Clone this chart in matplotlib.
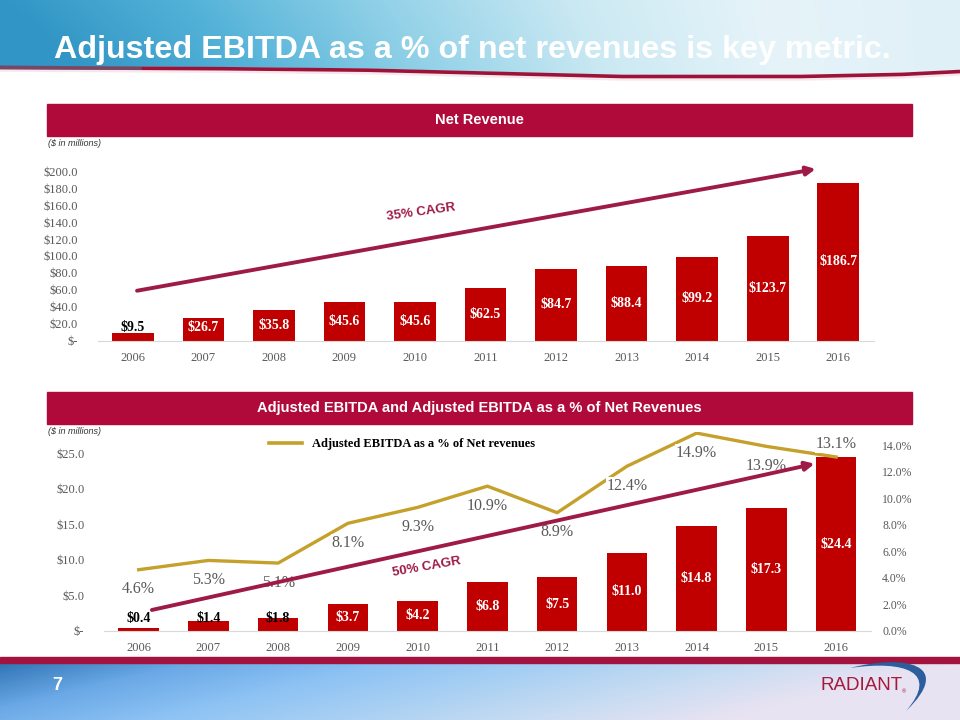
import numpy as np
import matplotlib.pyplot as plt
from matplotlib.colors import LinearSegmentedColormap
from matplotlib.lines import Line2D
from matplotlib.patches import Polygon, Rectangle, PathPatch
from matplotlib.path import Path

# ---- data ----
years = ["2006", "2007", "2008", "2009", "2010", "2011",
         "2012", "2013", "2014", "2015", "2016"]
net_revenue = [9.5, 26.7, 35.8, 45.6, 45.6, 62.5, 84.7, 88.4, 99.2, 123.7, 186.7]
adj_ebitda = [0.4, 1.4, 1.8, 3.7, 4.2, 6.8, 7.5, 11.0, 14.8, 17.3, 24.4]
ebitda_margin = [4.6, 5.3, 5.1, 8.1, 9.3, 10.9, 8.9, 12.4, 14.9, 13.9, 13.1]

rev_ticks = list(range(0, 201, 20))
ebitda_ticks = list(range(0, 26, 5))
margin_ticks = list(range(0, 15, 2))

BAR = "#C00000"
CRIMSON = "#B00A3B"
ARROW = "#9E1A48"
GOLD = "#C5A02B"
GREY = "#595959"
SERIF = "Liberation Serif"
SANS = "Liberation Sans"

fig = plt.figure(figsize=(9.6, 7.2), dpi=100)

# ---- slide background ----
bg = fig.add_axes([0, 0, 1, 1], zorder=-5)
bg.set_xlim(0, 960)
bg.set_ylim(720, 0)
bg.axis("off")

banner_cmap = LinearSegmentedColormap.from_list(
    "banner", ["#3196c5", "#55b3d8", "#93d2e8", "#cbe9f3", "#e6f4f9", "#dff0f7"])
hgrad = np.linspace(0, 1, 480)[None, :].repeat(80, axis=0)
vshade = np.linspace(0.0, 0.10, 80)[:, None]
im = bg.imshow(np.clip(hgrad - vshade * (1 - hgrad), 0, 1), cmap=banner_cmap,
               extent=[0, 960, 82, 0], aspect="auto", zorder=0)
cx = np.linspace(0, 960, 200)
cy = np.interp(cx, [0, 200, 360, 500, 620, 800, 900, 960], [66, 67, 68.5, 72, 75, 75, 73, 70])
clip = Polygon(np.vstack([[0, 0], np.column_stack([cx, cy]), [960, 0]]),
               transform=bg.transData, facecolor="none", edgecolor="none")
bg.add_patch(clip)
im.set_clip_path(clip)
bg.plot(cx, cy + 1.5, color="#9c1238", lw=2.6, solid_capstyle="butt", zorder=2)
bg.plot(cx[:30], cy[:30] + 1.5, color="#5a6f88", lw=2.6, alpha=0.6, zorder=3)
bg.plot(cx, cy + 4, color="#f3d6df", lw=2.5, alpha=0.6, zorder=1)

foot_cmap = LinearSegmentedColormap.from_list(
    "foot", ["#3074b5", "#6aa8e6", "#8cc2f4", "#a9d0f3", "#c8dcf2", "#e8e3f2"])
fgrad = np.linspace(0, 1, 480)[None, :].repeat(60, axis=0)
fv = np.linspace(0.0, 0.25, 60)[:, None]
bg.imshow(np.clip(fgrad + fv, 0, 1), cmap=foot_cmap,
          extent=[0, 960, 720, 662], aspect="auto", zorder=0)
bg.add_patch(Rectangle((0, 656.5), 960, 6, color="#A3133F", zorder=2))

bg.text(472, 58.3, "Adjusted EBITDA as a % of net revenues is key metric.",
        ha="center", va="baseline", color="white", fontsize=23.2, fontweight="bold",
        family=SANS, zorder=4)
bg.text(57, 686, "7", ha="center", va="center", color="white",
        fontsize=13, fontweight="bold", family=SANS, zorder=4)

# logo
bg.text(821, 686, "RADIANT", ha="left", va="center", color="#A6193C",
        fontsize=13.5, family=SANS, zorder=4)
bg.text(902, 692, "®", ha="left", va="center", color="#A6193C", fontsize=4, family=SANS, zorder=4)
swoosh = Path([(850, 668), (905, 654), (955, 664), (906, 711),
               (940, 672), (905, 660), (850, 668)],
              [Path.MOVETO, Path.CURVE4, Path.CURVE4, Path.CURVE4,
               Path.CURVE4, Path.CURVE4, Path.CURVE4])
bg.add_patch(PathPatch(swoosh, facecolor="#2c5d9c", edgecolor="none", zorder=3))

# section header bars
for y0, label in [(104, "Net Revenue"),
                  (392, "Adjusted EBITDA and Adjusted EBITDA as a % of Net Revenues")]:
    bg.add_patch(Rectangle((47, y0), 865, 31.5, color=CRIMSON, zorder=2))
    bg.text(479, y0 + 16, label, ha="center", va="center", color="white",
            fontsize=10.5, fontweight="bold", family=SANS, zorder=3)
    bg.text(48, y0 + 39, "($ in millions)", ha="left", va="center", color="#333333",
            fontsize=6.5, style="italic", family=SANS, zorder=3)


def money(v, _=None):
    return "$-" if v == 0 else f"${v:.1f}"


def style_axis(ax):
    for s in ("top", "right", "left"):
        ax.spines[s].set_visible(False)
    ax.spines["bottom"].set_color("#d9d9d9")
    ax.tick_params(length=0, colors=GREY, labelsize=9)
    for lbl in ax.get_xticklabels() + ax.get_yticklabels():
        lbl.set_family(SERIF)


x = np.arange(len(years))

# ---- Net revenue ----
ax1 = fig.add_axes([0.1016, 0.5268, 0.8083, 0.2353])
ax1.set_facecolor("none")
ax1.bar(x, net_revenue, width=0.59, color=BAR, zorder=2)
ax1.set_xlim(-0.5, len(years) - 0.5)
ax1.set_ylim(0, 200)
ax1.set_yticks(rev_ticks)
ax1.set_yticklabels([money(v) for v in rev_ticks])
ax1.set_xticks(x)
ax1.set_xticklabels(years)
ax1.tick_params(axis="y", pad=14)
ax1.tick_params(axis="x", pad=8)
style_axis(ax1)
for i, v in enumerate(net_revenue):
    ax1.text(i, max(v / 2, 15), money(v), ha="center", va="center",
             color="black" if v < 15 else "white", fontsize=10,
             fontweight="bold", family=SERIF, zorder=4)
ax1.annotate("", xy=(9.68, 202.7), xytext=(0.06, 59), annotation_clip=False,
             arrowprops=dict(arrowstyle="-|>", color=ARROW, lw=2.8,
                             mutation_scale=13, shrinkA=0, shrinkB=0), zorder=3)
ax1.text(4.08, 152, "35% CAGR", ha="center", va="center", rotation=8,
         color=ARROW, fontsize=9.5, fontweight="bold", family=SANS)

# ---- Adjusted EBITDA ----
ax2 = fig.add_axes([0.1081, 0.124, 0.7992, 0.2763])
ax2.set_facecolor("none")
ax2.bar(x, adj_ebitda, width=0.58, color=BAR, zorder=2)
ax2.set_xlim(-0.5, len(years) - 0.5)
ax2.set_ylim(0, 28)
ax2.set_yticks(ebitda_ticks)
ax2.set_yticklabels([money(v) for v in ebitda_ticks])
ax2.set_xticks(x)
ax2.set_xticklabels(years)
ax2.tick_params(axis="y", pad=14)
ax2.tick_params(axis="x", pad=8)
style_axis(ax2)
for i, v in enumerate(adj_ebitda):
    ax2.text(i, max(v / 2, 1.7), money(v), ha="center", va="center",
             color="black" if v < 2 else "white", fontsize=10,
             fontweight="bold", family=SERIF, zorder=4)
ax2.text(4.13, 9.0, "50% CAGR", ha="center", va="center", rotation=10,
         color=ARROW, fontsize=9.5, fontweight="bold", family=SANS, zorder=5)

ax3 = ax2.twinx()
ax3.set_ylim(0, 15)
ax3.set_yticks(margin_ticks)
ax3.set_yticklabels([f"{v:.1f}%" for v in margin_ticks])
for s in ("top", "right", "left", "bottom"):
    ax3.spines[s].set_visible(False)
ax3.tick_params(length=0, colors=GREY, labelsize=8.5, pad=8)
for lbl in ax3.get_yticklabels():
    lbl.set_family(SERIF)
ax3.plot(x, ebitda_margin, color=GOLD, lw=2.4, zorder=3)
for i, v in enumerate(ebitda_margin):
    dy = 9 if i == len(years) - 1 else -14
    ax3.annotate(f"{v:.1f}%", (i, v), xytext=(0, dy), textcoords="offset points",
                 ha="center", va="center", color=GREY, fontsize=11.5, family=SERIF,
                 bbox=dict(facecolor="white", edgecolor="none", pad=0.5), zorder=4)
# growth arrow drawn above the % labels, in EBITDA ($) coordinates
ax3.annotate("", xy=(9.69, 23.5), xycoords=ax2.transData,
             xytext=(0.19, 2.92), textcoords=ax2.transData, annotation_clip=False,
             arrowprops=dict(arrowstyle="-|>", color=ARROW, lw=2.8,
                             mutation_scale=13, shrinkA=0, shrinkB=0), zorder=6)

fig.legend(handles=[Line2D([], [], color=GOLD, lw=2.6)],
           labels=["Adjusted EBITDA as a % of Net revenues"],
           loc="center left", bbox_to_anchor=(258 / 960, 1 - 444 / 720),
           frameon=False, handlelength=2.6, handletextpad=0.8,
           prop=dict(family=SERIF, weight="bold", size=9))

fig.savefig("out.png", dpi=100)
